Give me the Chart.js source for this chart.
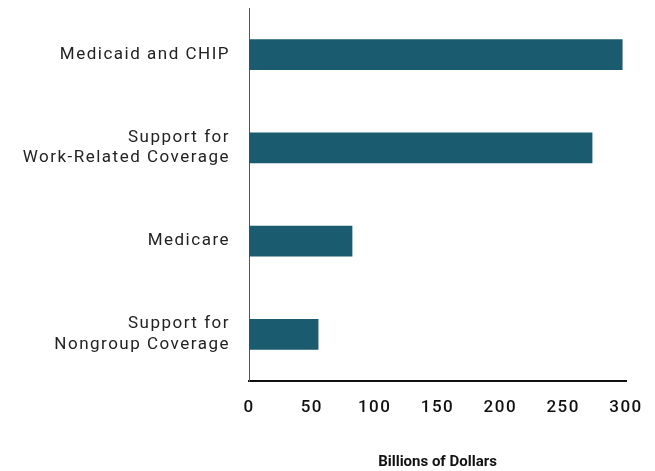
<!DOCTYPE html>
<html lang="en">
<head>
  <meta charset="UTF-8" />
  <title>Spending by Program</title>
  <script src="https://cdn.jsdelivr.net/npm/chart.js"></script>
  <style>
    html, body { margin: 0; padding: 0; background: #fff; }
    #wrap { width: 655px; height: 471px; position: relative; }
  </style>
</head>
<body>
  <div id="wrap"><canvas id="chart"></canvas></div>
  <script>
    const categories = [
      'Medicaid and CHIP',
      ['Support for', 'Work-Related Coverage'],
      'Medicare',
      ['Support for', 'Nongroup Coverage']
    ];
    const values = [297, 273, 82, 55];
    const xTicks = [0, 50, 100, 150, 200, 250, 300];
    const xTitle = 'Billions of Dollars';

    const font = "Roboto, 'Liberation Sans', Arial, sans-serif";

    // the labels in the original are widely spaced, the axis title is not
    const spacing = {
      id: 'spacing',
      beforeDraw(chart) {
        chart.ctx.letterSpacing = '1.5px';
        const x = chart.scales.x;
        if (!x._wrapped) {
          const orig = x.drawTitle.bind(x);
          x.drawTitle = function () {
            const ctx = this.ctx;
            const old = ctx.letterSpacing;
            ctx.letterSpacing = '0px';
            orig();
            ctx.letterSpacing = old;
          };
          x._wrapped = true;
        }
      },
      afterDraw(chart) {
        chart.ctx.letterSpacing = '0px';
      }
    };

    new Chart(document.getElementById('chart'), {
      type: 'bar',
      data: {
        labels: categories,
        datasets: [{
          data: values,
          backgroundColor: '#1b5b6f',
          barThickness: 30
        }]
      },
      options: {
        indexAxis: 'y',
        responsive: true,
        maintainAspectRatio: false,
        animation: false,
        layout: { padding: { top: 8, right: 29, bottom: 0, left: 0 } },
        plugins: { legend: { display: false }, tooltip: { enabled: false } },
        scales: {
          x: {
            min: 0, max: 300,
            afterBuildTicks: s => { s.ticks = xTicks.map(v => ({ value: v })); },
            afterFit: s => { s.height = 90; s.paddingLeft = 0; s.paddingRight = 0; },
            grid: { display: false, drawTicks: false },
            border: { color: '#111', width: 2 },
            ticks: { color: '#111', padding: 17, font: { family: font, size: 17, weight: '500' } },
            title: {
              display: true, text: xTitle, color: '#111',
              font: { family: font, size: 15, weight: 'bold' },
              padding: { top: 22, bottom: 0 }
            }
          },
          y: {
            afterFit: s => { s.width = 249; s.paddingTop = 0; s.paddingBottom = 0; },
            grid: { display: false, drawTicks: false },
            border: { color: '#555', width: 1 },
            ticks: { color: '#222', padding: 19, font: { family: font, size: 17 } }
          }
        }
      },
      plugins: [spacing]
    });
  </script>
</body>
</html>
